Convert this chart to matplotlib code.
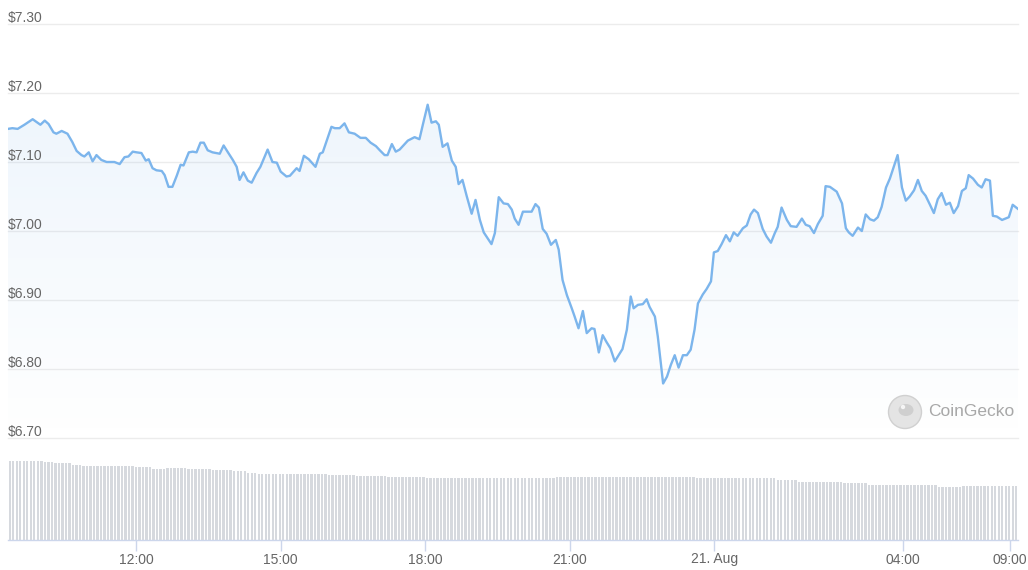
import matplotlib
matplotlib.use("Agg")
import matplotlib.pyplot as plt
import numpy as np
from matplotlib.patches import Circle, Ellipse

plt.rcParams['font.family'] = ['Liberation Sans', 'DejaVu Sans']

# price data: hours since 20 Aug 00:00, USD
hours = [9.38, 9.47, 9.58, 9.72, 9.89, 10.05, 10.14, 10.22, 10.32, 10.38,
         10.49, 10.61, 10.71, 10.80, 10.90, 10.96, 11.05, 11.13, 11.21, 11.31,
         11.42, 11.58, 11.69, 11.79, 11.87, 11.96, 12.04, 12.14, 12.23, 12.29,
         12.37, 12.45, 12.56, 12.62, 12.70, 12.78, 12.87, 12.95, 13.01, 13.12,
         13.20, 13.28, 13.36, 13.43, 13.51, 13.61, 13.76, 13.84, 13.92, 14.03,
         14.11, 14.17, 14.25, 14.34, 14.42, 14.52, 14.60, 14.75, 14.85, 14.94,
         15.02, 15.14, 15.21, 15.35, 15.41, 15.50, 15.60, 15.74, 15.83, 15.89,
         16.07, 16.14, 16.24, 16.34, 16.43, 16.55, 16.67, 16.78, 16.88, 16.99,
         17.07, 17.17, 17.23, 17.32, 17.40, 17.48, 17.65, 17.79, 17.89, 17.96,
         18.06, 18.14, 18.23, 18.29, 18.37, 18.47, 18.56, 18.64, 18.70, 18.78,
         18.87, 18.97, 19.05, 19.14, 19.22, 19.38, 19.45, 19.53, 19.63, 19.72,
         19.80, 19.86, 19.94, 20.03, 20.21, 20.29, 20.36, 20.44, 20.52, 20.61,
         20.71, 20.77, 20.85, 20.94, 21.04, 21.10, 21.18, 21.27, 21.35, 21.45,
         21.51, 21.60, 21.68, 21.76, 21.84, 21.93, 22.09, 22.18, 22.26, 22.32,
         22.41, 22.51, 22.59, 22.65, 22.76, 22.82, 22.93, 23.01, 23.09, 23.17,
         23.25, 23.34, 23.42, 23.50, 23.58, 23.65, 23.75, 23.83, 23.92, 23.98,
         24.06, 24.14, 24.23, 24.31, 24.39, 24.47, 24.58, 24.66, 24.74, 24.81,
         24.89, 24.99, 25.07, 25.16, 25.24, 25.30, 25.38, 25.49, 25.57, 25.69,
         25.80, 25.88, 25.96, 26.05, 26.13, 26.23, 26.29, 26.38, 26.52, 26.63,
         26.71, 26.77, 26.85, 26.96, 27.04, 27.12, 27.21, 27.29, 27.37, 27.45,
         27.54, 27.62, 27.78, 27.87, 27.95, 28.03, 28.12, 28.20, 28.28, 28.36,
         28.45, 28.53, 28.61, 28.69, 28.78, 28.86, 28.94, 29.03, 29.11, 29.19,
         29.25, 29.34, 29.44, 29.52, 29.60, 29.69, 29.75, 29.83, 29.94, 30.08,
         30.16, 30.27]
prices = [7.148, 7.149, 7.148, 7.154, 7.162, 7.154, 7.160, 7.155, 7.143, 7.141,
          7.145, 7.141, 7.129, 7.116, 7.110, 7.108, 7.114, 7.101, 7.110, 7.103,
          7.100, 7.100, 7.097, 7.107, 7.108, 7.115, 7.114, 7.113, 7.102, 7.104,
          7.091, 7.088, 7.087, 7.081, 7.064, 7.064, 7.080, 7.096, 7.095, 7.114,
          7.115, 7.114, 7.128, 7.128, 7.117, 7.114, 7.112, 7.124, 7.115, 7.103,
          7.093, 7.074, 7.085, 7.073, 7.070, 7.084, 7.093, 7.118, 7.100, 7.099,
          7.086, 7.079, 7.080, 7.091, 7.087, 7.109, 7.104, 7.093, 7.112, 7.114,
          7.151, 7.149, 7.149, 7.156, 7.143, 7.141, 7.135, 7.135, 7.128, 7.123,
          7.117, 7.110, 7.110, 7.126, 7.115, 7.118, 7.131, 7.136, 7.133, 7.154,
          7.183, 7.157, 7.159, 7.154, 7.122, 7.127, 7.102, 7.093, 7.068, 7.074,
          7.050, 7.025, 7.045, 7.016, 6.998, 6.981, 6.997, 7.049, 7.040, 7.039,
          7.031, 7.018, 7.009, 7.028, 7.028, 7.039, 7.034, 7.003, 6.996, 6.980,
          6.987, 6.973, 6.929, 6.907, 6.888, 6.876, 6.859, 6.884, 6.852, 6.859,
          6.858, 6.824, 6.849, 6.839, 6.830, 6.811, 6.829, 6.857, 6.905, 6.888,
          6.893, 6.894, 6.901, 6.890, 6.876, 6.847, 6.779, 6.789, 6.806, 6.820,
          6.802, 6.820, 6.820, 6.828, 6.857, 6.895, 6.908, 6.916, 6.927, 6.969,
          6.971, 6.981, 6.994, 6.985, 6.998, 6.993, 7.004, 7.008, 7.024, 7.031,
          7.026, 7.003, 6.992, 6.983, 6.997, 7.006, 7.034, 7.016, 7.007, 7.006,
          7.018, 7.009, 7.007, 6.997, 7.010, 7.022, 7.065, 7.064, 7.057, 7.040,
          7.004, 6.998, 6.993, 7.005, 7.000, 7.024, 7.017, 7.015, 7.020, 7.035,
          7.063, 7.076, 7.110, 7.063, 7.044, 7.050, 7.059, 7.074, 7.058, 7.051,
          7.038, 7.026, 7.046, 7.055, 7.038, 7.041, 7.026, 7.036, 7.058, 7.062,
          7.081, 7.076, 7.067, 7.063, 7.075, 7.073, 7.022, 7.021, 7.016, 7.020,
          7.038, 7.032]

# volume (arbitrary units), stored as runs of equal bars
vol_counts = [10, 3, 5, 3, 15, 5, 4, 6, 7, 6, 4, 3, 20, 8, 9, 11, 37, 40, 23, 6, 13, 7, 20, 7, 16]
vol_values = [7.9, 7.8, 7.7, 7.5, 7.4, 7.3, 7.1, 7.25, 7.1, 7.0, 6.9, 6.7, 6.6, 6.5, 6.4,
              6.3, 6.25, 6.3, 6.2, 6.0, 5.85, 5.7, 5.5, 5.3, 5.4]

price_ticks = [6.70, 6.80, 6.90, 7.00, 7.10, 7.20, 7.30]
time_ticks = [12.0, 15.0, 18.0, 21.0, 24.0, 27.91, 30.14]
time_labels = ["12:00", "15:00", "18:00", "21:00", "21. Aug", "04:00", "09:00"]

line_color = "#7cb5ec"
W, H = 1028, 570
fig = plt.figure(figsize=(W / 100, H / 100), dpi=100)

# price panel
ax = fig.add_axes([8 / W, 1 - 438 / H, 1010 / W, 414 / H])
t = np.array(hours)
p = np.array(prices)
for s in ax.spines.values():
    s.set_visible(False)
ax.set_xticks([])
ax.set_yticks([])

for v in price_ticks:
    ax.axhline(v, color="#ececec", lw=1, zorder=0, clip_on=False)
    ax.annotate("$%.2f" % v, xy=(0, v), xycoords=("axes fraction", "data"),
                xytext=(0, 1.2), textcoords="offset points", ha="left",
                va="baseline", fontsize=10, color="#666666")

# gradient area under the line
poly = ax.fill_between(t, p, 6.70, color="none", lw=0)
grad = np.zeros((100, 1, 4))
grad[:, 0, 0] = 124 / 255
grad[:, 0, 1] = 181 / 255
grad[:, 0, 2] = 236 / 255
grad[:, 0, 3] = np.linspace(0.13, 0.0, 100)
im = ax.imshow(grad, extent=[t[0], t[-1], 6.70, p.max()], aspect="auto",
               origin="upper", zorder=1)
im.set_clip_path(poly.get_paths()[0], transform=ax.transData)
ax.set_xlim(t[0], t[-1])
ax.set_ylim(6.70, 7.30)

ax.plot(t, p, color=line_color, lw=1.7, zorder=3, solid_joinstyle="round")

# volume panel
vax = fig.add_axes([8 / W, 30 / H, 1010 / W, 90 / H])
vol = np.repeat(vol_values, vol_counts)
vt = np.linspace(t[0], t[-1], len(vol))
step = vt[1] - vt[0]
vax.bar(vt, vol, width=step * 0.68, color="#d6d9de", lw=0)
vax.set_xlim(t[0] - step / 2, t[-1] + step / 2)
vax.set_ylim(0, 9.0)
for k in ["top", "right", "left"]:
    vax.spines[k].set_visible(False)
vax.spines["bottom"].set_color("#ccd6eb")
vax.spines["bottom"].set_linewidth(1)
vax.set_yticks([])
vax.set_xticks(time_ticks)
vax.set_xticklabels(time_labels)
vax.tick_params(axis="x", length=8, width=1, color="#ccd6eb", pad=1,
                labelsize=10, labelcolor="#666666")

# watermark
wm = fig.add_axes([0, 0, 1, 1], facecolor="none")
wm.set_xlim(0, W)
wm.set_ylim(H, 0)
wm.axis("off")
wm.add_patch(Circle((905, 412), 16.5, facecolor="#e4e4e4", edgecolor="#d0d0d0", lw=1))
wm.add_patch(Ellipse((906, 410), 15, 12, facecolor="#cfcfcf", edgecolor="none"))
wm.add_patch(Circle((903, 407), 2.2, facecolor="#f5f5f5", edgecolor="none"))
wm.text(928, 411, "CoinGecko", fontsize=12.5, color="#a8a8a8", ha="left", va="center")

fig.savefig("out.png", dpi=100)
